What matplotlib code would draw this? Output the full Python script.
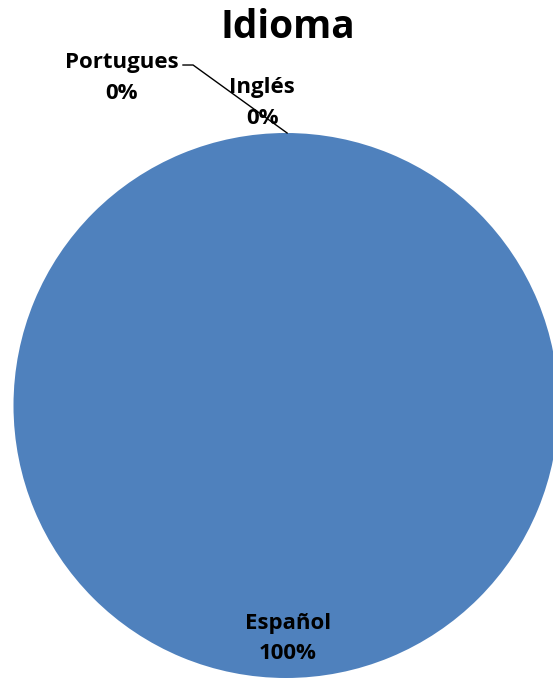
import matplotlib
matplotlib.use("Agg")
import matplotlib.pyplot as plt

categories = ["Español", "Inglés", "Portugues"]
values = [100, 0, 0]
title = "Idioma"

plt.rcParams['font.family'] = ['Open Sans', 'DejaVu Sans']

fig = plt.figure(figsize=(5.53, 6.81), dpi=100)
ax = fig.add_axes([(286 - 272.5) / 553, 3 / 681, 545 / 553, 545 / 681])
wedges, _ = ax.pie(values, startangle=90, counterclock=False,
                   colors=["#4F81BD", "#C0504D", "#9BBB59"],
                   radius=1.0, wedgeprops=dict(linewidth=0))
ax.set_xlim(-1, 1)
ax.set_ylim(-1, 1)
ax.set_aspect('equal')
ax.axis('off')

total = sum(values)
pct = [f"{round(v / total * 100)}%" for v in values]

label_pos = {"Español": (0.007, -0.855), "Inglés": (-0.087, 1.110), "Portugues": (-0.603, 1.202)}
for c, p in zip(categories, pct):
    x, y = label_pos[c]
    ax.text(x, y, f"{c}\n{p}", ha='center', va='center', fontsize=16,
            fontweight='bold', color='black', linespacing=1.6, clip_on=False)

# leader line for Portugues
ax.plot([-0.378, -0.341, 0.004], [1.2495, 1.2495, 1.0], color='black', lw=1.0, clip_on=False)

fig.text(288 / 553, 1 - 28 / 681, title, ha='center', va='center', fontsize=28, fontweight='bold')

fig.savefig("out.png", dpi=100)
